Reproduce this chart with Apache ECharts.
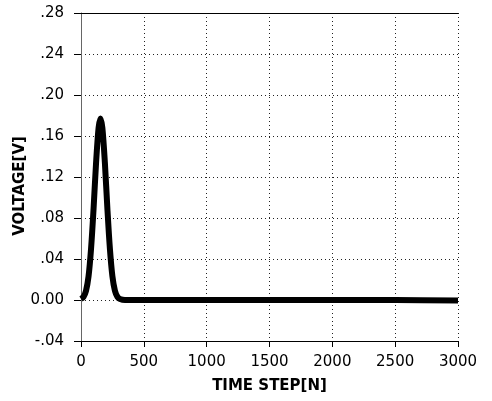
<!DOCTYPE html>
<html><head><meta charset="utf-8">
<script src="https://cdn.jsdelivr.net/npm/echarts@6/dist/echarts.min.js"></script>
<style>html,body{margin:0;padding:0;background:#fff}#c{width:492px;height:401px}</style>
</head><body><div id="c"></div>
<script>
var timeSteps = [0, 20, 40, 60, 80, 100, 120, 140, 155, 170, 190, 210, 230, 250, 270, 290, 310, 350, 500, 1000, 1500, 2000, 2500, 3000];
var voltage   = [0.001, 0.003, 0.009, 0.023, 0.050, 0.089, 0.134, 0.168, 0.177, 0.168, 0.134, 0.089, 0.050, 0.023, 0.009, 0.003, 0.001, 0.0, 0.0, 0.0, 0.0, 0.0, 0.0, -0.0005];
var yTickLabels = {'0.28':'.28','0.24':'.24','0.2':'.20','0.16':'.16','0.12':'.12','0.08':'.08','0.04':'.04','0':'0.00','-0.04':'-.04'};
var xTitle = 'TIME STEP[N]';
var yTitle = 'VOLTAGE[V]';

var data = timeSteps.map(function(t, i){ return [t, voltage[i]]; });
var font = 'DejaVu Sans';
var chart = echarts.init(document.getElementById('c'));
chart.setOption({
  animation: false,
  grid: {left: 81, right: 34, top: 13, bottom: 60, containLabel: false, outerBoundsMode: 'none'},
  xAxis: [{
    type: 'value', min: 0, max: 3000, interval: 500,
    axisLine: {show: true, onZero: false, lineStyle: {color: '#000', width: 1}},
    axisTick: {show: true, inside: false, length: 6, lineStyle: {color: '#000'}},
    axisLabel: {color: '#000', fontFamily: font, fontSize: 15, margin: 14,
      formatter: function(v){ return String(v); }},
    splitLine: {show: true, lineStyle: {color: '#222', type: [1, 3], width: 1}},
    name: xTitle, nameLocation: 'middle', nameGap: 38, nameMoveOverlap: false,
    nameTextStyle: {color: '#000', fontFamily: font, fontWeight: 'bold', fontSize: 15}
  }, {
    type: 'value', min: 0, max: 3000, position: 'top',
    axisLine: {show: true, onZero: false, lineStyle: {color: '#000', width: 1}},
    axisTick: {show: false}, axisLabel: {show: false}, splitLine: {show: false}
  }],
  yAxis: {
    type: 'value', min: -0.04, max: 0.28, interval: 0.04,
    axisLine: {show: true, onZero: false, lineStyle: {color: '#666', width: 1}},
    axisTick: {show: true, inside: false, length: 7, lineStyle: {color: '#000'}},
    axisLabel: {color: '#000', fontFamily: font, fontSize: 15, margin: 17,
      formatter: function(v){ var k = String(Math.round(v*100)/100); return yTickLabels[k] !== undefined ? yTickLabels[k] : k; }},
    splitLine: {show: true, lineStyle: {color: '#222', type: [1, 3], width: 1}},
    name: yTitle, nameLocation: 'middle', nameGap: 53, nameMoveOverlap: false,
    nameTextStyle: {color: '#000', fontFamily: font, fontWeight: 'bold', fontSize: 15, padding: [0, 18, 0, 0]}
  },
  series: [{
    type: 'line', data: data, smooth: 0.3, showSymbol: false, xAxisIndex: 0,
    lineStyle: {color: '#000', width: 6}, itemStyle: {color: '#000'}
  }]
});
</script></body></html>
